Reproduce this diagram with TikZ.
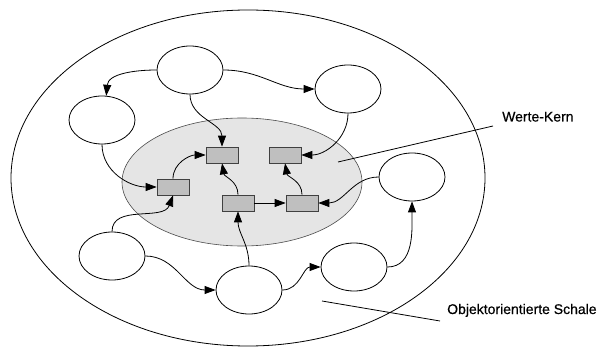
\documentclass[tikz,border=0pt]{standalone}
\usepackage{fontspec}
\setmainfont{Liberation Sans}
\newfontfamily\lblfont[FakeBold=0.5]{Liberation Sans}
\usetikzlibrary{shapes.geometric,arrows.meta}
\begin{document}
\begin{tikzpicture}[x=1pt,y=-1pt,
  obj/.style={draw,ellipse,fill=white,line width=0.8pt,minimum width=66pt,minimum height=48pt,inner sep=0pt},
  val/.style={draw=black!75,fill=black!25,line width=0.7pt,minimum width=32pt,minimum height=16pt,inner sep=0pt},
  conn/.style={line width=0.8pt,-{Triangle[length=11pt,width=8pt]}},
  lbl/.style={font=\lblfont\fontsize{14}{16}\selectfont,anchor=base west,inner sep=0pt}]
\useasboundingbox (0,0) rectangle (604,347);
% outer shell
\draw[line width=0.8pt] (248,178) ellipse [x radius=237, y radius=168];
% inner core
\draw[fill=black!10,draw=black!70,line width=0.6pt] (242,182) ellipse [x radius=120, y radius=64];
% object ellipses
\node[obj] (e1) at (190,70) {};
\node[obj] (e2) at (102,120) {};
\node[obj] (e3) at (348,89) {};
\node[obj] (e4) at (412,177) {};
\node[obj] (e5) at (112,256) {};
\node[obj] (e6) at (249,290) {};
\node[obj] (e7) at (354,267) {};
% value boxes
\node[val] (r1) at (222,155) {};
\node[val] (r2) at (285,155) {};
\node[val] (r3) at (173,187) {};
\node[val] (r4) at (238,203) {};
\node[val] (r5) at (302,203) {};
% connectors
\draw[conn] (e1.west) to[out=180,in=85] (e2.80);
\draw[conn] (e1.east) to[out=0,in=180] (e3.west);
\draw[conn] (e1.south) to[out=-90,in=90] (r1.north);
\draw[conn] (e3.south) to[out=-90,in=0] (r2.east);
\draw[conn] (e2.south) to[out=-90,in=180] (r3.west);
\draw[conn] (r3.north) to[out=90,in=180] (r1.west);
\draw[conn] (r4.north) to[out=90,in=-80] (r1.south);
\draw[conn] (r5.north) to[out=90,in=-80] (r2.south);
\draw[conn] (r4.east) -- (r5.west);
\draw[conn] (e4.west) to[out=180,in=0] (r5.east);
\draw[conn] (e5.north) to[out=90,in=-110] (r3.south);
\draw[conn] (e6.north) to[out=90,in=-90] (r4.south);
\draw[conn] (e5.east) to[out=0,in=180] (e6.west);
\draw[conn] (e6.east) to[out=0,in=180] (e7.west);
\draw[conn] (e7.east) to[out=0,in=-90] (e4.south);
% labels
\node[lbl] (wk) at (502,121.5) {Werte-Kern};
\coordinate (wka) at (338,162);
\draw[line width=0.8pt] (wka) -- ([xshift=-9pt,yshift=-4.5pt]wk.base west);
\node[lbl] (os) at (447,314) {Objektorientierte Schale};
\coordinate (osa) at (322,301);
\draw[line width=0.8pt] (osa) -- ([xshift=-7pt,yshift=-7pt]os.base west);
\end{tikzpicture}
\end{document}
